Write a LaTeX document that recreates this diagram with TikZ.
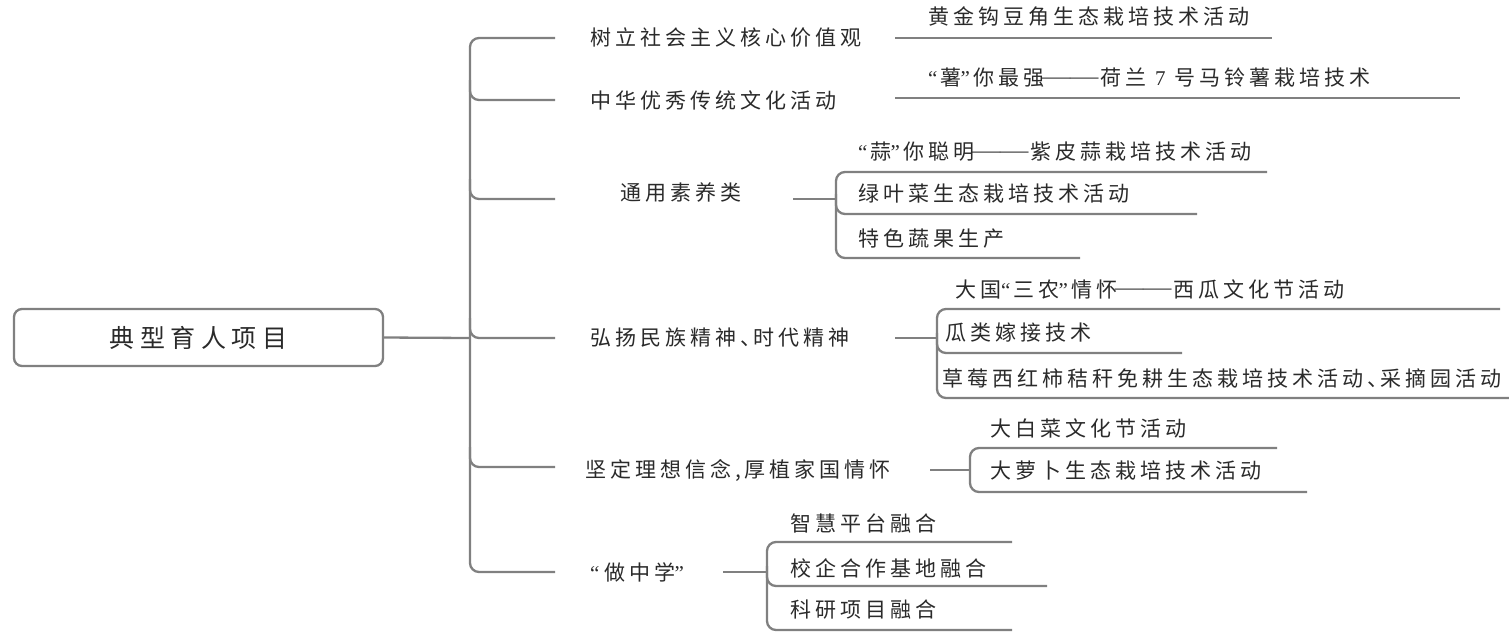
\documentclass[tikz,border=0pt]{standalone}
\usepackage{fontspec}
\setmainfont{Noto Sans CJK SC}
\newfontfamily\cjk[LetterSpace=19]{Noto Sans CJK SC}
\newfontfamily\cjkroot[LetterSpace=22]{Noto Sans CJK SC}
\newfontfamily\latf{Liberation Serif}
\newcommand\oq{{\latf “}\kern3pt}
\newcommand\cq{\kern-1pt{\latf ”}\kern4pt}
\newcommand\dsh{\kern-3pt\raisebox{2.5pt}{\latf\scalebox{1.35}[1]{——}}\kern2pt}
\newcommand\dun{、\kern-8pt}
\definecolor{lc}{HTML}{808080}
\definecolor{tc}{HTML}{2A2A2A}
\tikzset{
  ln/.style={draw=lc, line width=2.3pt, rounded corners=9pt},
  lbl/.style={anchor=west, inner sep=0pt, text=tc, font=\cjk\fontsize{21}{22}\selectfont},
  rootbox/.style={draw=lc, line width=2.3pt, rounded corners=8pt, minimum width=369pt,
    minimum height=57pt, inner sep=0pt, text=tc, font=\cjkroot\fontsize{25}{27}\selectfont},
}
\begin{document}
\begin{tikzpicture}[x=1pt,y=-1pt]
\useasboundingbox (0,0) rectangle (1509,633);
% root
\node[rootbox] (root) at (198.5,337.5) {典型育人项目};
\coordinate (sp) at (470,338);
\draw[ln] (root.east) -- (sp);
% spine and first-level branches
\coordinate (b1) at (555,38);
\coordinate (b2) at (555,100);
\coordinate (b3) at (555,199);
\coordinate (b4) at (555,338);
\coordinate (b5) at (555,467);
\coordinate (b6) at (555,572);
\draw[ln] (b1) -- (b1 -| sp) -- (b6 -| sp) -- (b6);
\draw[ln] (b2 -| sp) ++(0,-20) -- ++(0,20) -- (b2);
\draw[ln] (b3 -| sp) ++(0,-20) -- ++(0,20) -- (b3);
\draw[ln] (b4 -| sp) ++(0,-20) -- ++(0,20) -- (b4);
\draw[ln] (b5 -| sp) ++(0,-20) -- ++(0,20) -- (b5);
% first-level labels
\node[lbl] (l1) at (590,38) {树立社会主义核心价值观};
\node[lbl] (l2) at (590,100) {中华优秀传统文化活动};
\node[lbl] (l3) at (620,192) {通用素养类};
\node[lbl] (l4) at (590,338) {弘扬民族精神\dun 时代精神};
\node[lbl] (l5) at (585,470) {坚定理想信念,厚植家国情怀};
\node[lbl] (l6) at (590,572) {\oq\kern2pt 做中学\cq};
% group 1
\coordinate (g1s) at (895,38);
\coordinate (g1e) at (1272,38);
\draw[ln] (g1s) -- (g1e);
\node[lbl] (t11) at (928,17) {黄金钩豆角生态栽培技术活动};
% group 2
\coordinate (g2s) at (895,98);
\coordinate (g2e) at (1460,98);
\draw[ln] (g2s) -- (g2e);
\node[lbl] (t21) at (928,78) {\oq 薯\cq 你最强\dsh 荷兰 {\latf 7} 号马铃薯栽培技术};
% group 3
\coordinate (s3) at (793,199);
\coordinate (v3) at (836,199);
\coordinate (g3a) at (1267,172);
\coordinate (g3b) at (1197,214);
\coordinate (g3c) at (1080,258);
\draw[ln] (s3) -- (v3);
\draw[ln] (g3a) -- (g3a -| v3) -- (g3c -| v3) -- (g3c);
\draw[ln] (g3b -| v3) ++(0,-20) -- ++(0,20) -- (g3b);
\node[lbl] (t31) at (858,152) {\oq 蒜\cq 你聪明\dsh 紫皮蒜栽培技术活动};
\node[lbl] (t32) at (858,193) {绿叶菜生态栽培技术活动};
\node[lbl] (t33) at (858,239) {特色蔬果生产};
% group 4
\coordinate (s4) at (895,338);
\coordinate (v4) at (937,338);
\coordinate (g4a) at (1500,309);
\coordinate (g4b) at (1182,353);
\coordinate (g4c) at (1509,398);
\draw[ln] (s4) -- (v4);
\draw[ln] (g4a) -- (g4a -| v4) -- (g4c -| v4) -- (g4c);
\draw[ln] (g4b -| v4) ++(0,-20) -- ++(0,20) -- (g4b);
\node[lbl] (t41) at (955,289) {大国\oq 三农\cq 情怀\dsh 西瓜文化节活动};
\node[lbl] (t42) at (945,333) {瓜类嫁接技术};
\node[lbl] (t43) at (942,378) {草莓西红柿秸秆免耕生态栽培技术活动\dun 采摘园活动};
% group 5
\coordinate (s5) at (930,470);
\coordinate (v5) at (970,470);
\coordinate (g5a) at (1277,448);
\coordinate (g5b) at (1307,492);
\draw[ln] (s5) -- (v5);
\draw[ln] (g5a) -- (g5a -| v5) -- (g5b -| v5) -- (g5b);
\node[lbl] (t51) at (990,428) {大白菜文化节活动};
\node[lbl] (t52) at (990,470) {大萝卜生态栽培技术活动};
% group 6
\coordinate (s6) at (723,572);
\coordinate (v6) at (767,572);
\coordinate (g6a) at (1012,542);
\coordinate (g6b) at (1047,586);
\coordinate (g6c) at (1012,630);
\draw[ln] (s6) -- (v6);
\draw[ln] (g6a) -- (g6a -| v6) -- (g6c -| v6) -- (g6c);
\draw[ln] (g6b -| v6) ++(0,-20) -- ++(0,20) -- (g6b);
\node[lbl] (t61) at (790,523) {智慧平台融合};
\node[lbl] (t62) at (790,568) {校企合作基地融合};
\node[lbl] (t63) at (790,610) {科研项目融合};
\end{tikzpicture}
\end{document}
